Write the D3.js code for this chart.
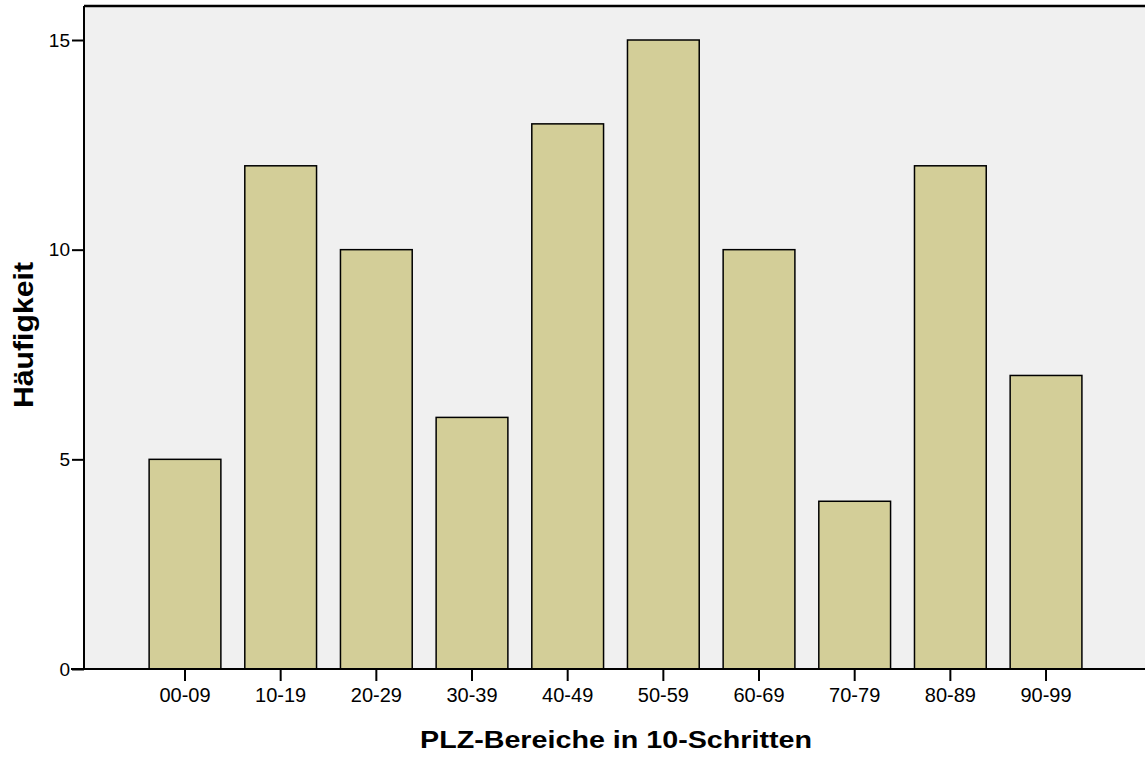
<!DOCTYPE html>
<html>
<head>
<meta charset="utf-8">
<script src="https://cdn.jsdelivr.net/npm/d3@7"></script>
<style>
  body { margin: 0; background: #fff; }
  text { font-family: Arial, "Liberation Sans", sans-serif; }
</style>
</head>
<body>
<div id="chart"></div>
<script>
var categories = ["00-09", "10-19", "20-29", "30-39", "40-49", "50-59", "60-69", "70-79", "80-89", "90-99"];
var counts = [5, 12, 10, 6, 13, 15, 10, 4, 12, 7];
var yTicks = [0, 5, 10, 15];

var width = 1145, height = 760;
var plotLeft = 84, plotTop = 6, plotBottom = 669, plotRight = 1145;

var svg = d3.select("#chart").append("svg")
    .attr("width", width)
    .attr("height", height);

var step = 95.67;
var x = d3.scaleBand()
    .domain(categories)
    .range([185 - step / 2, 185 - step / 2 + step * categories.length])
    .paddingInner(0.25)
    .paddingOuter(0.125);

var y = d3.scaleLinear()
    .domain([0, 15])
    .range([plotBottom, 40]);

// plot background
svg.append("rect")
    .attr("x", plotLeft)
    .attr("y", plotTop)
    .attr("width", plotRight - plotLeft)
    .attr("height", plotBottom - plotTop)
    .attr("fill", "#f0f0f0");

// bars
svg.selectAll(".bar")
    .data(counts)
    .enter().append("rect")
    .attr("class", "bar")
    .attr("x", function(d, i) { return x(categories[i]); })
    .attr("y", function(d) { return y(d); })
    .attr("width", x.bandwidth())
    .attr("height", function(d) { return plotBottom - y(d); })
    .attr("fill", "#d3ce98")
    .attr("stroke", "#000")
    .attr("stroke-width", 1.5);

// frame lines
svg.append("line")
    .attr("x1", plotLeft).attr("x2", plotRight)
    .attr("y1", plotTop).attr("y2", plotTop)
    .attr("stroke", "#000").attr("stroke-width", 2.5);
svg.append("line")
    .attr("x1", plotLeft).attr("x2", plotLeft)
    .attr("y1", plotTop).attr("y2", plotBottom)
    .attr("stroke", "#000").attr("stroke-width", 2);

// y axis
var yAxis = svg.append("g")
    .attr("transform", "translate(" + plotLeft + ",0)")
    .call(d3.axisLeft(y).tickValues(yTicks).tickSize(12).tickPadding(2).tickFormat(d3.format("d")));
yAxis.select(".domain").remove();
yAxis.selectAll("line").attr("stroke", "#000").attr("stroke-width", 2);
yAxis.selectAll("text").attr("font-size", 19).attr("fill", "#000")
    .attr("font-family", "Arial, 'Liberation Sans', sans-serif");

// x axis
var xAxis = svg.append("g")
    .attr("transform", "translate(0," + plotBottom + ")")
    .call(d3.axisBottom(x).tickSize(12).tickPadding(7));
xAxis.select(".domain").remove();
xAxis.selectAll("line").attr("stroke", "#000").attr("stroke-width", 2);
xAxis.selectAll("text").attr("font-size", 20).attr("fill", "#000")
    .attr("font-family", "Arial, 'Liberation Sans', sans-serif");

svg.append("line")
    .attr("x1", plotLeft - 13).attr("x2", plotRight)
    .attr("y1", plotBottom).attr("y2", plotBottom)
    .attr("stroke", "#000").attr("stroke-width", 2);

// axis titles
svg.append("text")
    .attr("x", 616)
    .attr("y", 748)
    .attr("text-anchor", "middle")
    .attr("font-size", 23)
    .attr("font-weight", "bold")
    .attr("textLength", 392)
    .attr("lengthAdjust", "spacingAndGlyphs")
    .text("PLZ-Bereiche in 10-Schritten");

svg.append("text")
    .attr("transform", "translate(33,335) rotate(-90)")
    .attr("text-anchor", "middle")
    .attr("font-size", 27)
    .attr("font-weight", "bold")
    .attr("textLength", 146)
    .attr("lengthAdjust", "spacingAndGlyphs")
    .text("Häufigkeit");
</script>
</body>
</html>
